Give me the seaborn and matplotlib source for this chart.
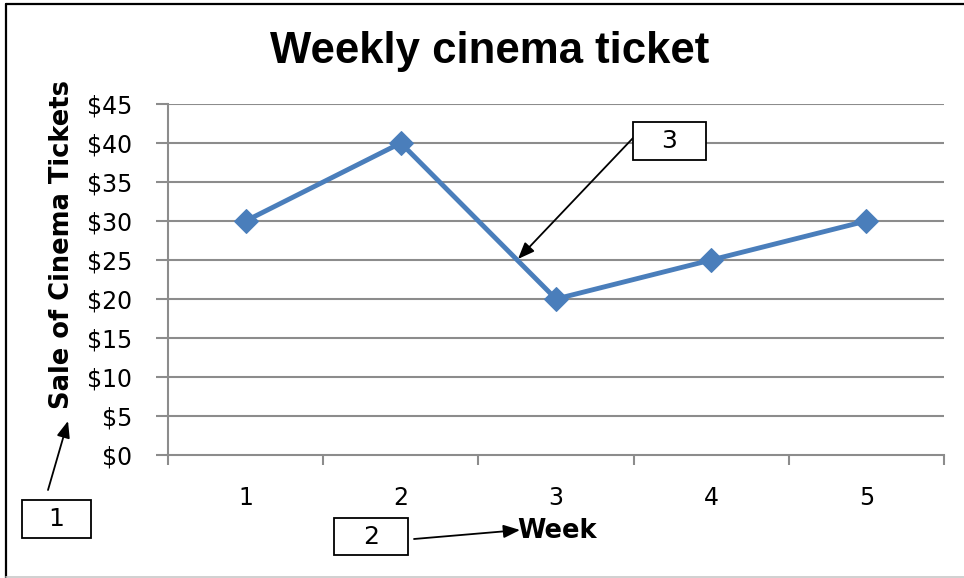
import matplotlib
matplotlib.use("Agg")
import matplotlib.pyplot as plt
import seaborn as sns
import pandas as pd
from matplotlib.lines import Line2D

weeks = ["1", "2", "3", "4", "5"]
sales = [30, 40, 20, 25, 30]
y_ticks = [0, 5, 10, 15, 20, 25, 30, 35, 40, 45]

df = pd.DataFrame({"pos": range(len(weeks)), "sales": sales})

sns.set_style("white")
plt.rcParams["font.family"] = ["DejaVu Sans"]
plt.rcParams["text.color"] = "black"
plt.rcParams["xtick.color"] = "black"
plt.rcParams["ytick.color"] = "black"

W, H = 964, 578
fig = plt.figure(figsize=(W / 100, H / 100), dpi=100)
ax = fig.add_axes([168 / W, 1 - 455 / H, (944 - 168) / W, (455 - 104) / H])

grid_c = "#8c8c8c"
for v in y_ticks[1:]:
    ax.axhline(v, color=grid_c, lw=1.5, zorder=1)

sns.lineplot(data=df, x="pos", y="sales", ax=ax, color="#4A7EBB", lw=3.5,
             marker="D", markersize=12.5, markeredgecolor="#4A7EBB", zorder=3)

ax.set_xlim(-0.5, len(weeks) - 0.5)
ax.set_ylim(0, 45)
ax.set_yticks(y_ticks)
ax.set_yticklabels([f"${v}" for v in y_ticks], fontsize=17)
ax.set_xticks([i - 0.5 for i in range(len(weeks) + 1)])
ax.set_xticklabels([])
ax.set_xticks(range(len(weeks)), minor=True)
ax.set_xticklabels(weeks, minor=True, fontsize=17)
ax.tick_params(axis="x", which="major", length=7, width=1.5, color=grid_c,
               direction="out", bottom=True)
ax.tick_params(axis="x", which="minor", length=0, pad=22, bottom=True)
ax.tick_params(axis="y", length=9, width=1.5, color=grid_c, direction="out",
               pad=17, left=True, labelcolor="black")
for s in ["top", "right"]:
    ax.spines[s].set_visible(False)
for s in ["left", "bottom"]:
    ax.spines[s].set_color(grid_c)
    ax.spines[s].set_linewidth(1.5)
ax.set_xlabel("")
ax.set_ylabel("")

fig.text(490 / W, 1 - 52 / H, "Weekly cinema ticket", ha="center", va="center",
         fontsize=31.5, fontweight="bold", family="Liberation Sans")
fig.text(62 / W, 1 - 245 / H, "Sale of Cinema Tickets", rotation=90, ha="center",
         va="center", fontsize=18.5, fontweight="bold")
fig.text(557 / W, 1 - 531 / H, "Week", ha="center", va="center",
         fontsize=18.5, fontweight="bold")

def label_box(x0, y0, x1, y1, txt):
    fig.add_artist(plt.Rectangle((x0 / W, 1 - y1 / H), (x1 - x0) / W, (y1 - y0) / H,
                                 transform=fig.transFigure, fc="white", ec="black", lw=1.3))
    fig.text((x0 + x1) / 2 / W, 1 - (y0 + y1) / 2 / H, txt, ha="center", va="center",
             fontsize=18)

def arrow(x0, y0, x1, y1):
    ax.annotate("", xy=(x1, H - y1), xycoords="figure pixels",
                xytext=(x0, H - y0), textcoords="figure pixels",
                arrowprops=dict(arrowstyle="-|>,head_length=1.0,head_width=0.4",
                                color="black", lw=1.3, shrinkA=0, shrinkB=0))

label_box(22, 500, 91, 538, "1")
arrow(48, 490, 68, 421)
label_box(334, 518, 408, 555, "2")
arrow(414, 539, 520, 530)
label_box(633, 122, 706, 160, "3")
arrow(633, 138, 518, 259)

fig.add_artist(Line2D([6 / W, 6 / W], [0, 1 - 4 / H], transform=fig.transFigure, color="black", lw=1.6))
fig.add_artist(Line2D([6 / W, 1], [1 - 4 / H, 1 - 4 / H], transform=fig.transFigure, color="black", lw=1.6))
fig.add_artist(Line2D([6 / W, 1], [1 / H, 1 / H], transform=fig.transFigure, color="#c8c8c8", lw=1.2))

fig.savefig("out.png", dpi=100)
